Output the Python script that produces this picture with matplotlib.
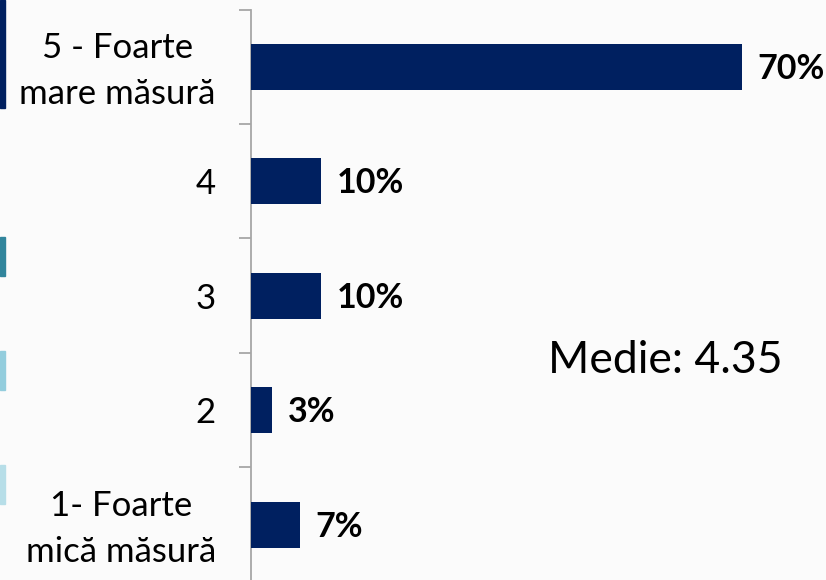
import matplotlib
matplotlib.use("Agg")
import matplotlib.pyplot as plt
from matplotlib.patches import Rectangle
from matplotlib.ticker import FixedLocator
from matplotlib.transforms import ScaledTranslation

categories = ["5 - Foarte\nmare măsură", "4", "3", "2", "1- Foarte\nmică măsură"]
values = [70, 10, 10, 3, 7]
value_labels = ["70%", "10%", "10%", "3%", "7%"]
mean_text = "Medie: 4.35"

BG = "#fbfbfb"
BAR = "#002060"
GRAY = "#a6a6a6"
FONT = "Lato"

W, H = 826, 580
fig = plt.figure(figsize=(W / 100, H / 100), dpi=100, facecolor=BG)

top_px, bot_px, left_px = 9.5, 582.0, 250.5
px_per_unit = 7.02
xmax = 80
ax = fig.add_axes([left_px / W, 1 - bot_px / H, xmax * px_per_unit / W, (bot_px - top_px) / H])
ax.set_facecolor(BG)

y = list(range(len(categories)))
ax.barh(y, values, height=0.4, color=BAR, zorder=3)
ax.set_xlim(0, xmax)
ax.set_ylim(len(categories) - 0.5, -0.5)

for s in ["top", "right", "bottom"]:
    ax.spines[s].set_visible(False)
ax.spines["left"].set_color(GRAY)
ax.spines["left"].set_linewidth(1.3)
ax.xaxis.set_visible(False)

ax.set_yticks(y)
ax.set_yticklabels(categories, fontfamily=FONT, fontsize=25, color="black",
                   multialignment="center", linespacing=1.55)
ax.yaxis.set_minor_locator(FixedLocator([i - 0.5 for i in range(len(categories) + 1)]))
ax.tick_params(axis="y", which="major", length=0, pad=25)
ax.tick_params(axis="y", which="minor", length=9, width=1.3, color=GRAY)

for lbl in ax.get_yticklabels():
    if "\n" in lbl.get_text():
        lbl.set_transform(lbl.get_transform() + ScaledTranslation(0, 6 / 100, fig.dpi_scale_trans))

fs_val = 24.5
cap = 0.7165 * fs_val
for yi, v, lab in zip(y, values, value_labels):
    ax.annotate(lab, xy=(v, yi), xytext=(11.5, -cap / 2), textcoords="offset points",
                ha="left", va="baseline", fontfamily=FONT, fontweight="bold",
                fontsize=fs_val, color="black")

fig.text(548 / W, 1 - 373 / H, mean_text, ha="left", va="baseline",
         fontfamily=FONT, fontsize=32, color="black")

# left-edge coloured strips (cut-off legend keys)
strips = [(0, 108, "#002060"), (237, 276, "#31859c"), (351, 390, "#93cddd"), (465, 504, "#b7dee8")]
for y0, y1, c in strips:
    fig.patches.append(Rectangle((0, 1 - y1 / H), 5 / W, (y1 - y0) / H,
                                 transform=fig.transFigure, color=c, zorder=5))

fig.savefig("out.png", dpi=100, facecolor=BG)
